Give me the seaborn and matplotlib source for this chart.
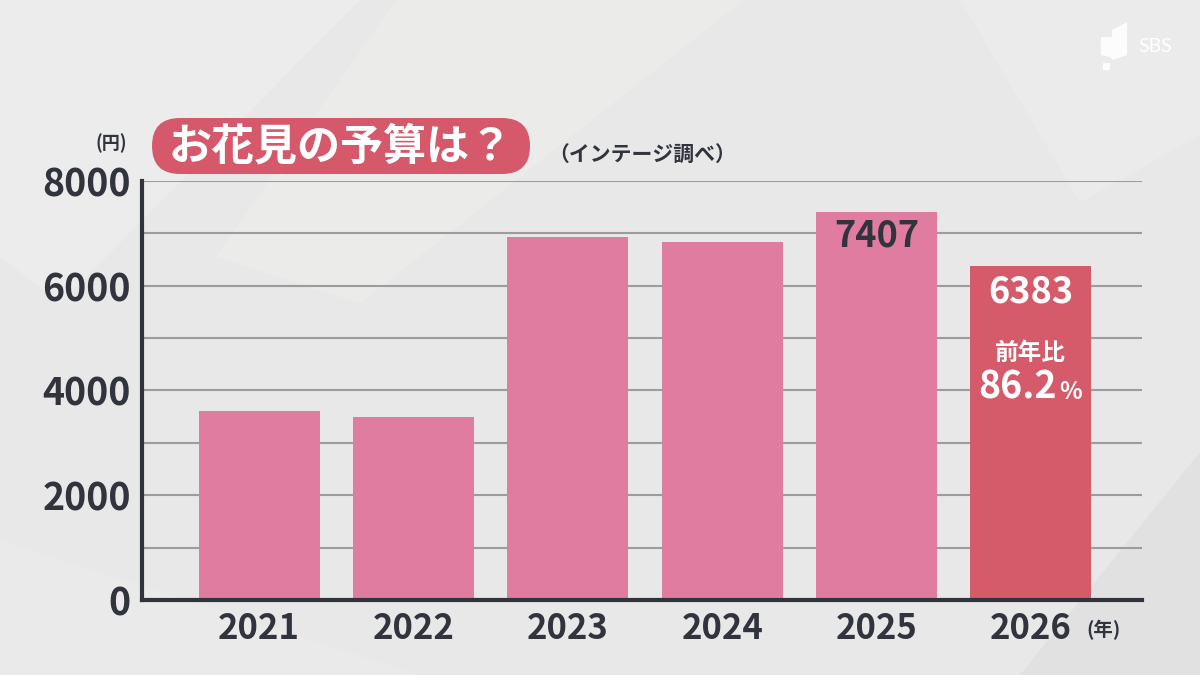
import matplotlib
matplotlib.use('Agg')
import matplotlib.pyplot as plt
from matplotlib.patches import FancyBboxPatch, Polygon
import pandas as pd
import seaborn as sns

# Data
years = ['2021', '2022', '2023', '2024', '2025', '2026']
budget = [3600, 3500, 6930, 6830, 7407, 6383]
bar_colors = ['#df7ca0', '#df7ca0', '#df7ca0', '#df7ca0', '#df7ca0', '#d55a6a']
y_ticks = [0, 2000, 4000, 6000, 8000]

df = pd.DataFrame({'year': years, 'budget': budget})

sns.set_theme(style='white')
plt.rcParams['font.family'] = ['Noto Sans CJK JP', 'DejaVu Sans']
ink = '#31343c'

fig = plt.figure(figsize=(12, 6.75), dpi=100)
fig.patch.set_facecolor('#e8e8e8')

# subtle background swooshes
for pts, c in [
    ([(0.0, 0.62), (0.0, 1.0), (0.30, 1.0), (0.05, 0.55)], '#ececec'),
    ([(0.33, 1.0), (0.62, 1.0), (0.30, 0.55), (0.18, 0.62)], '#ebebe9'),
    ([(0.80, 1.0), (1.0, 1.0), (1.0, 0.80), (0.90, 0.70)], '#ebebeb'),
    ([(0.0, 0.0), (0.0, 0.20), (0.35, 0.0)], '#eaeaea'),
    ([(0.85, 0.0), (1.0, 0.0), (1.0, 0.33)], '#e1e1e1'),
]:
    fig.add_artist(Polygon(pts, closed=True, transform=fig.transFigure,
                           facecolor=c, edgecolor='none', zorder=0))

ax = fig.add_axes([0.1183, 0.1111, 0.8334, 0.6208])
ax.set_facecolor('none')

sns.barplot(data=df, x='year', y='budget', hue='year', palette=bar_colors,
            width=0.785, saturation=1, legend=False, ax=ax, zorder=3,
            edgecolor='none', linewidth=0)

ax.set_ylim(0, 8000)
ax.set_xlim(-0.76, 5.72)
ax.set_yticks(y_ticks)
ax.set_yticks(range(1000, 8000, 2000), minor=True)
ax.grid(axis='y', which='both', color='#9c9c9c', linewidth=1.5, zorder=1)
ax.set_axisbelow(True)
ax.set_xlabel('')
ax.set_ylabel('')
ax.tick_params(axis='both', which='both', length=0)
ax.tick_params(axis='y', pad=8, labelsize=27, labelcolor=ink)
ax.tick_params(axis='x', pad=8, labelsize=25, labelcolor=ink)
for lab in ax.get_xticklabels() + ax.get_yticklabels():
    lab.set_fontweight('bold')
for side in ['top', 'right']:
    ax.spines[side].set_visible(False)
for side in ['left', 'bottom']:
    ax.spines[side].set_color(ink)
    ax.spines[side].set_linewidth(3)
    ax.spines[side].set_zorder(5)

# value labels inside bars
ax.annotate(f'{budget[4]}', (4, budget[4]), xytext=(0, -24), textcoords='offset pixels',
            ha='center', va='center', fontsize=26, color=ink, fontweight='bold')
ax.annotate(f'{budget[5]}', (5, budget[5]), xytext=(0, -26), textcoords='offset pixels',
            ha='center', va='center', fontsize=26, color='white', fontweight='bold')
ax.annotate('前年比', (5, budget[5]), xytext=(0, -87), textcoords='offset pixels',
            ha='center', va='center', fontsize=17, color='white', fontweight='bold')
ax.annotate('86.2', (5, budget[5]), xytext=(26, -133), textcoords='offset pixels',
            ha='right', va='baseline', fontsize=27, color='white', fontweight='bold')
ax.annotate('%', (5, budget[5]), xytext=(28, -133), textcoords='offset pixels',
            ha='left', va='baseline', fontsize=17, color='white', fontweight='bold')

# title pill
pill = FancyBboxPatch((1.52, 5.01), 3.78, 0.56, boxstyle='round,pad=0,rounding_size=0.28',
                      transform=fig.dpi_scale_trans, facecolor='#d5596b', edgecolor='none',
                      zorder=6)
fig.add_artist(pill)
fig.text(341 / 1200, 1 - 146 / 675, 'お花見の予算は？', ha='center', va='center',
         fontsize=31, fontweight='bold', color='white', zorder=7)
fig.text(548 / 1200, 1 - 155 / 675, '（インテージ調べ）', ha='left', va='center',
         fontsize=15, fontweight='bold', color=ink)
fig.text(111 / 1200, 1 - 143 / 675, '(円)', ha='center', va='center',
         fontsize=13, fontweight='bold', color=ink)
fig.text(1104 / 1200, 1 - 630 / 675, '(年)', ha='center', va='center',
         fontsize=14, fontweight='bold', color=ink)

# broadcaster logo
fig.add_artist(Polygon([(1101 / 1200, 1 - 37 / 675), (1112 / 1200, 1 - 37 / 675),
                        (1112 / 1200, 1 - 30 / 675), (1127 / 1200, 1 - 22 / 675),
                        (1127 / 1200, 1 - 55 / 675), (1113 / 1200, 1 - 60 / 675),
                        (1110 / 1200, 1 - 57 / 675), (1101 / 1200, 1 - 55 / 675)],
                       closed=True, transform=fig.transFigure, facecolor='white',
                       edgecolor='none', alpha=0.9))
fig.add_artist(Polygon([(1103 / 1200, 1 - 63 / 675), (1110 / 1200, 1 - 63 / 675),
                        (1110 / 1200, 1 - 70 / 675), (1103 / 1200, 1 - 70 / 675)],
                       closed=True, transform=fig.transFigure, facecolor='white',
                       edgecolor='none', alpha=0.9))
fig.text(1155 / 1200, 1 - 47 / 675, 'SBS', ha='center', va='center', fontsize=14,
         color='white', family=['Lato', 'DejaVu Sans'])

fig.savefig('out.png', dpi=100, facecolor=fig.get_facecolor())
